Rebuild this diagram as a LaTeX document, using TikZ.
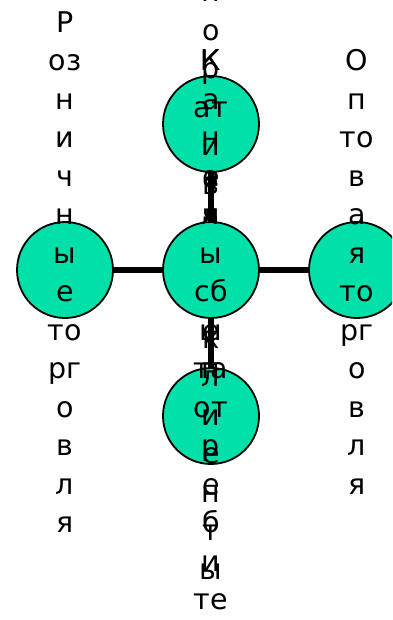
\documentclass[tikz,border=0pt]{standalone}
\usepackage{fontspec}
\setmainfont{DejaVu Sans}
\definecolor{mint}{RGB}{0,224,168}
\newcommand{\zs}{\rule[-8pt]{0pt}{41pt}}
\tikzset{
  circ/.style={circle, draw=black, line width=1.8pt, fill=mint, minimum size=96pt, inner sep=0pt},
  lbl/.style={font=\fontsize{28.5}{38.5}\selectfont, align=center, inner sep=0pt, text=black},
  link/.style={line width=5.5pt, draw=black},
}
\begin{document}
\begin{tikzpicture}[x=1pt,y=-1pt]
\useasboundingbox (0,0) rectangle (392,620);
\clip (0,0) rectangle (392,620);
% bottom
\node[circ] (b) at (211,416) {};
\node[lbl] (bt) at (211,366.25) {\zs К\\о\\н\\е\\ч\\н\\ы\\е\\п\\от\\р\\е\\б\\и\\те\\л\\и\zs};
% top
\node[circ] (t) at (211,124) {};
\node[lbl] (tt) at (211,220.25) {\zs К\\о\\р\\п\\о\\р\\ат\\и\\в\\н\\ы\\е\\к\\л\\и\\е\\н\\т\\ы\zs};
% left
\node[circ] (l) at (65,270) {};
\node[lbl] (lt) at (65,270) {\zs Р\\оз\\н\\и\\ч\\н\\ы\\е\\то\\рг\\о\\в\\л\\я\zs};
% right
\node[circ] (r) at (357,270) {};
\node[lbl] (rt) at (357,270) {\zs О\\п\\то\\в\\а\\я\\то\\рг\\о\\в\\л\\я\zs};
% center
\node[circ] (c) at (211,270) {};
\node[lbl] (ct) at (211,212.25) {\zs К\\а\\н\\а\\л\\ы\\сб\\ы\\та\zs};
% links
\draw[link] (c) -- (t);
\draw[link] (c) -- (l);
\draw[link] (c) -- (r);
\draw[link] (c) -- (b);
\end{tikzpicture}
\end{document}
